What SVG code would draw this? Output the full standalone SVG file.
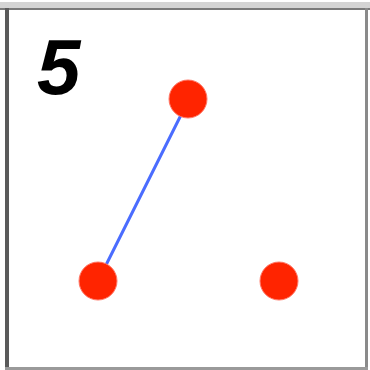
<svg xmlns="http://www.w3.org/2000/svg" width="370" height="370" viewBox="0 0 370 370">
<style>
.node{fill:#ff2400;stroke:#ff7a6a;stroke-width:1}
.edge{stroke:#4a6cff;stroke-width:3;stroke-linecap:round}
.digit{font-family:"Liberation Sans",Arial,sans-serif;font-weight:bold;font-style:italic;font-size:78px;fill:#000}
</style>
<rect x="0" y="0" width="370" height="370" fill="#fff"/>
<rect x="0" y="2" width="370" height="7" fill="#d4d4d4"/>
<rect x="0" y="8" width="370" height="2" fill="#7a7a7a"/>
<rect x="5" y="8" width="4" height="362" fill="#5a5a5a"/>
<rect x="365" y="8" width="3" height="362" fill="#8a8a8a"/>
<rect x="5" y="367" width="363" height="3" fill="#9a9a9a"/>
<text class="digit" x="37" y="94">5</text>
<g id="connectors">
<line class="edge" x1="181" y1="115" x2="106" y2="265"/>
</g>
<g id="node-top"><circle class="node" cx="188" cy="99" r="19"/></g>
<g id="node-left"><circle class="node" cx="98" cy="281" r="19"/></g>
<g id="node-right"><circle class="node" cx="279" cy="281" r="19"/></g>
</svg>
